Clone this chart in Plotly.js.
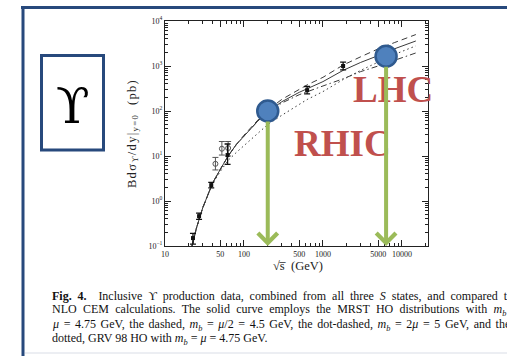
<!DOCTYPE html>
<html>
<head>
<meta charset="utf-8">
<script src="https://cdn.plot.ly/plotly-3.0.1.min.js"></script>
<style>html,body{margin:0;padding:0;background:#fff;overflow:hidden}#chart{width:507px;height:356px}</style>
</head>
<body>
<div id="chart"></div>
<script>
// ---- data ----
var energy      = [22, 25, 30, 40, 50, 63, 80, 100, 150, 200, 300, 500, 630, 1000, 1800, 3000, 5000, 8000, 15000];
var solidMRST   = [0.1, 0.25, 0.7, 2.5, 5, 10, 18, 28, 60, 95, 160, 260, 310, 450, 800, 1200, 1700, 2400, 3600];
var dashedHalf  = [0.1, 0.25, 0.7, 2.5, 5, 10, 18, 29, 63, 105, 180, 310, 380, 560, 1050, 1600, 2400, 3300, 5000];
var dotdashTwo  = [0.1, 0.25, 0.7, 2.5, 5, 10, 18, 28, 60, 92, 150, 230, 270, 360, 520, 750, 1000, 1350, 1950];
var dottedGRV   = [0.1, 0.25, 0.7, 2.4, 4.5, 8, 12, 17, 32, 50, 80, 140, 180, 270, 500, 800, 1200, 1800, 2800];

var filledE     = [22.6, 27, 38.5, 62, 630, 1800];
var filledY     = [0.15, 0.46, 2.25, 10.5, 290, 1000];
var filledErrUp = [0.04, 0.08, 0.35, 8, 60, 220];
var filledErrDn = [0.04, 0.07, 0.3, 4, 50, 180];

var openE       = [43.5, 52.5, 63];
var openY       = [6.7, 14.5, 15];
var openErrUp   = [2.6, 6.5, 6];
var openErrDn   = [1.8, 4, 5];

var colliderNames = ['RHIC', 'LHC'];
var colliderE     = [200, 6300];
var colliderY     = [100, 1650];
var labelE        = [1790, 7700];   // label anchor energies (GeV)
var labelY        = [18.5, 300];    // label anchor heights (pb)

var xTickVals = [10, 50, 100, 500, 1000, 5000, 10000];
var xTickText = ['10', '50', '100', '500', '1000', '5000', '10000'];
var yTickVals = [0.1, 1, 10, 100, 1000, 10000];
var yTickText = ['10<sup>\u22121</sup>', '10<sup>0</sup>', '10<sup>1</sup>', '10<sup>2</sup>', '10<sup>3</sup>', '10<sup>4</sup>'];

var captionLines = [
  '<b>Fig. 4.</b>\u00a0 Inclusive \u03d2 production data, combined from all three <i>S</i> states, and compared to the',
  'NLO CEM calculations. The solid curve employs the MRST HO distributions with <i>m<sub>b</sub></i> = ',
  '<i>\u03bc</i> = 4.75 GeV, the dashed, <i>m<sub>b</sub></i> = <i>\u03bc</i>/2 = 4.5 GeV, the dot-dashed, <i>m<sub>b</sub></i> = 2<i>\u03bc</i> = 5 GeV, and the',
  'dotted, GRV 98 HO with <i>m<sub>b</sub></i> = <i>\u03bc</i> = 4.75 GeV.'
];
var captionWordSpacing = [2.9, 3.3, 1.6, 0]; // the printed caption is justified

// ---- layout helpers ----
var W = 507, H = 356;
var M = {l: 165, r: 79, t: 21, b: 110};
var PW = W - M.l - M.r, PH = H - M.t - M.b;
function px(x) { return (x - M.l) / PW; }
function py(y) { return (H - M.b - y) / PH; }
var serif = 'Liberation Serif, Times New Roman, serif';
var blue = '#27497c';
var green = '#9bbb59';
var red = '#c0504d';
var lg = Math.log10;

function curve(y, dash) {
  return {x: energy, y: y, mode: 'lines', type: 'scatter', hoverinfo: 'skip',
          line: {color: '#3a3a3a', width: 1, dash: dash}};
}

var traces = [
  curve(solidMRST, 'solid'),
  curve(dashedHalf, '6px,4px'),
  curve(dotdashTwo, '6px,3px,1.5px,3px'),
  curve(dottedGRV, '1.5px,3px'),
  {x: openE, y: openY, mode: 'markers', type: 'scatter',
   marker: {symbol: 'circle-open', size: 5, color: '#555', line: {width: 1}},
   error_y: {type: 'data', symmetric: false, array: openErrUp, arrayminus: openErrDn, color: '#555', thickness: 1, width: 3}},
  {x: filledE, y: filledY, mode: 'markers', type: 'scatter',
   marker: {symbol: 'square', size: 4, color: '#111'},
   error_y: {type: 'data', symmetric: false, array: filledErrUp, arrayminus: filledErrDn, color: '#111', thickness: 1.3, width: 3}},
  {x: colliderE, y: colliderY, mode: 'markers', type: 'scatter',
   marker: {symbol: 'circle', size: 21, color: '#4f81bd', line: {color: '#2f5a8f', width: 2.5}}}
];

var annotations = [];
for (var i = 0; i < colliderNames.length; i++) {
  annotations.push({xref: 'x', yref: 'y', x: lg(labelE[i]), y: lg(labelY[i]),
    text: '<b>' + colliderNames[i] + '</b>', showarrow: false,
    font: {family: serif, size: 37, color: red}, xanchor: 'center', yanchor: 'middle'});
}
for (var i = 0; i < colliderNames.length; i++) {
  annotations.push({xref: 'x', yref: 'y', axref: 'x', ayref: 'y',
    x: lg(colliderE[i]), y: lg(yTickVals[0]), ax: lg(colliderE[i]), ay: lg(colliderY[i]),
    text: '', showarrow: true, arrowhead: 4, arrowsize: 0.95, arrowwidth: 4,
    arrowcolor: green, startstandoff: 9, standoff: 0});
}
annotations.push({xref: 'paper', yref: 'paper', x: px(298), y: py(266), text: '\u221As\u0305\u00a0 (GeV)',
  showarrow: false, font: {family: serif, size: 12.5, color: '#222'}, xanchor: 'center', yanchor: 'middle'});
annotations.push({xref: 'paper', yref: 'paper', x: px(73), y: py(106), text: '\u03d2',
  showarrow: false, font: {family: 'DejaVu Serif, Liberation Serif, serif', size: 49, color: '#000'},
  xanchor: 'center', yanchor: 'middle'});
var capStart = annotations.length;
var capY = [296, 310, 325, 339];
for (var k = 0; k < captionLines.length; k++) {
  annotations.push({xref: 'paper', yref: 'paper', x: px(50), y: py(capY[k]), text: captionLines[k],
    showarrow: false, xanchor: 'left', yanchor: 'middle', align: 'left',
    font: {family: serif, size: 12, color: '#111'}});
}

var shapes = [
  {type: 'line', xref: 'paper', yref: 'paper', x0: px(21), x1: px(520), y0: py(7.5), y1: py(7.5), line: {color: blue, width: 3}},
  {type: 'line', xref: 'paper', yref: 'paper', x0: px(23), x1: px(23), y0: py(6), y1: py(370), line: {color: blue, width: 3}},
  {type: 'line', xref: 'paper', yref: 'paper', x0: px(25), x1: px(520), y0: py(353), y1: py(353), line: {color: '#d9dde6', width: 1}},
  {type: 'rect', xref: 'paper', yref: 'paper', x0: px(41.5), x1: px(103.5), y0: py(55.5), y1: py(150), line: {color: blue, width: 3}, fillcolor: '#fff', layer: 'below'}
];

var axisCommon = {type: 'log', showgrid: false, zeroline: false, showline: true, linecolor: '#222', linewidth: 1,
  mirror: 'ticks', ticks: 'inside', ticklen: 6, tickwidth: 1, tickcolor: '#222', tickmode: 'array',
  tickfont: {family: serif, size: 8, color: '#222'}};

var layout = {
  width: W, height: H, margin: M, showlegend: false,
  paper_bgcolor: '#fff', plot_bgcolor: '#fff',
  xaxis: Object.assign({}, axisCommon, {range: [1, 4.33], tickvals: xTickVals, ticktext: xTickText,
    minor: {ticks: 'inside', ticklen: 3, tickcolor: '#222', dtick: 'D1'}}),
  yaxis: Object.assign({}, axisCommon, {range: [-1, 4], tickvals: yTickVals, ticktext: yTickText,
    minor: {ticks: 'inside', ticklen: 3, tickcolor: '#222', dtick: 'D1'},
    title: {text: 'Bd\u03c3<sub>\u03d2</sub>/dy|<sub>y=0</sub>\u00a0 (pb)', standoff: 9,
            font: {family: serif, size: 12.5, color: '#222'}}}),
  annotations: annotations, shapes: shapes
};

Plotly.newPlot('chart', traces, layout, {staticPlot: true, displayModeBar: false}).then(function (gd) {
  for (var k = 0; k < captionLines.length; k++) {
    var t = gd.querySelector('g.annotation[data-index="' + (capStart + k) + '"] text.annotation-text');
    if (t) t.style.wordSpacing = captionWordSpacing[k] + 'px';
  }
  var yt = gd.querySelector('text.ytitle');
  if (yt) yt.style.letterSpacing = '1.3px';
});
</script>
</body>
</html>
